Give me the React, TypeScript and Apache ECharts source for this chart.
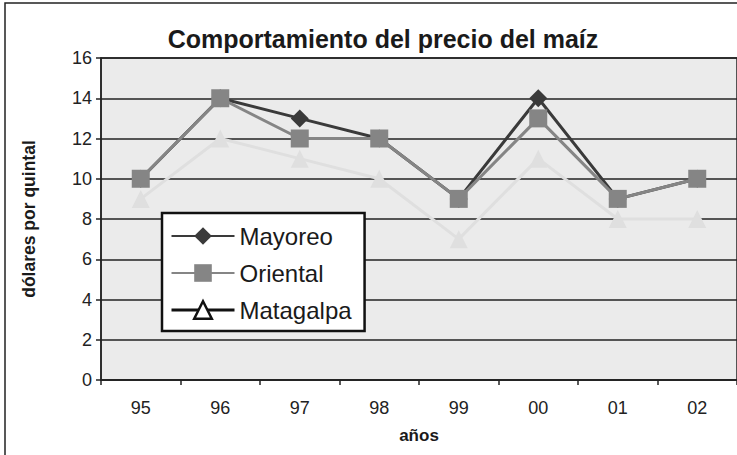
import React, { useEffect, useRef } from "react";
import * as echarts from "echarts";

const categories = ["95", "96", "97", "98", "99", "00", "01", "02"];
const mayoreo = [10, 14, 13, 12, 9, 14, 9, 10];
const oriental = [10, 14, 12, 12, 9, 13, 9, 10];
const matagalpa = [9, 12, 11, 10, 7, 11, 8, 8];

const FONT = "'Liberation Sans', Arial, sans-serif";

export default function App() {
  const ref = useRef<HTMLDivElement>(null);
  useEffect(() => {
    if (!ref.current) return;
    const chart = echarts.init(ref.current, undefined, { renderer: "svg" });
    chart.setOption({
      animation: false,
      backgroundColor: "#ffffff",
      textStyle: { fontFamily: FONT },
      title: {
        text: "Comportamiento del precio del maíz",
        left: 378,
        textAlign: "center",
        top: 21,
        textStyle: { fontFamily: FONT, fontSize: 25, fontWeight: "bold", color: "#1a1a1a" },
      },
      graphic: [
        {
          type: "rect",
          shape: { x: 5, y: 3, width: 800, height: 520 },
          style: { fill: "none", stroke: "#222", lineWidth: 1.5 },
          silent: true,
          z: 100,
        },
      ],
      grid: {
        left: 101,
        top: 58,
        width: 641,
        height: 322,
        show: true,
        backgroundColor: "#ebebeb",
        borderColor: "#222",
        borderWidth: 1.5,
      },
      legend: {
        orient: "vertical",
        left: 162,
        top: 213,
        padding: [11, 13, 9, 8],
        itemGap: 13,
        itemWidth: 63,
        itemHeight: 22,
        backgroundColor: "#ffffff",
        borderColor: "#111",
        borderWidth: 2.5,
        borderRadius: 0,
        textStyle: { fontFamily: FONT, fontSize: 24, color: "#1a1a1a" },
        data: [
          { name: "Mayoreo" },
          { name: "Oriental" },
          {
            name: "Matagalpa",
            itemStyle: { color: "#ffffff", borderColor: "#111", borderWidth: 2.5 },
            lineStyle: { color: "#111", width: 3 },
          },
        ],
      },
      xAxis: {
        type: "category",
        data: categories,
        boundaryGap: true,
        name: "años",
        nameLocation: "middle",
        nameGap: 47,
        nameTextStyle: { fontFamily: FONT, fontSize: 17, fontWeight: "bold", color: "#1a1a1a" },
        axisLine: { show: true, lineStyle: { color: "#222", width: 1.5 } },
        axisTick: { show: true, length: 5, inside: false, lineStyle: { color: "#222", width: 1.5 } },
        axisLabel: { fontFamily: FONT, fontSize: 18, color: "#222", margin: 19 },
        splitLine: { show: false },
      },
      yAxis: {
        type: "value",
        min: 0,
        max: 16,
        interval: 2,
        name: "dólares por quintal",
        nameLocation: "middle",
        nameGap: 63,
        nameTextStyle: { fontFamily: FONT, fontSize: 17.5, fontWeight: "bold", color: "#1a1a1a" },
        axisLine: { show: true, lineStyle: { color: "#222", width: 1.5 } },
        axisTick: { show: true, length: 5, inside: false, lineStyle: { color: "#222", width: 1.5 } },
        axisLabel: { fontFamily: FONT, fontSize: 18, color: "#222", margin: 9 },
        splitLine: { show: true, lineStyle: { color: "#222", width: 1.5 } },
      },
      series: [
        {
          name: "Matagalpa",
          type: "line",
          data: matagalpa,
          symbol: "triangle",
          symbolSize: 18,
          lineStyle: { color: "#dfdfdf", width: 3 },
          itemStyle: { color: "#dfdfdf" },
          z: 2,
        },
        {
          name: "Mayoreo",
          type: "line",
          data: mayoreo,
          symbol: "diamond",
          symbolSize: 18,
          lineStyle: { color: "#3a3a3a", width: 3 },
          itemStyle: { color: "#3a3a3a" },
          z: 3,
        },
        {
          name: "Oriental",
          type: "line",
          data: oriental,
          symbol: "rect",
          symbolSize: 18,
          lineStyle: { color: "#858585", width: 3 },
          itemStyle: { color: "#858585" },
          z: 4,
        },
      ],
    });
    return () => chart.dispose();
  }, []);
  return (
    <div
      ref={ref}
      style={{ position: "absolute", left: 0, top: 0, width: 737, height: 455 }}
    />
  );
}
